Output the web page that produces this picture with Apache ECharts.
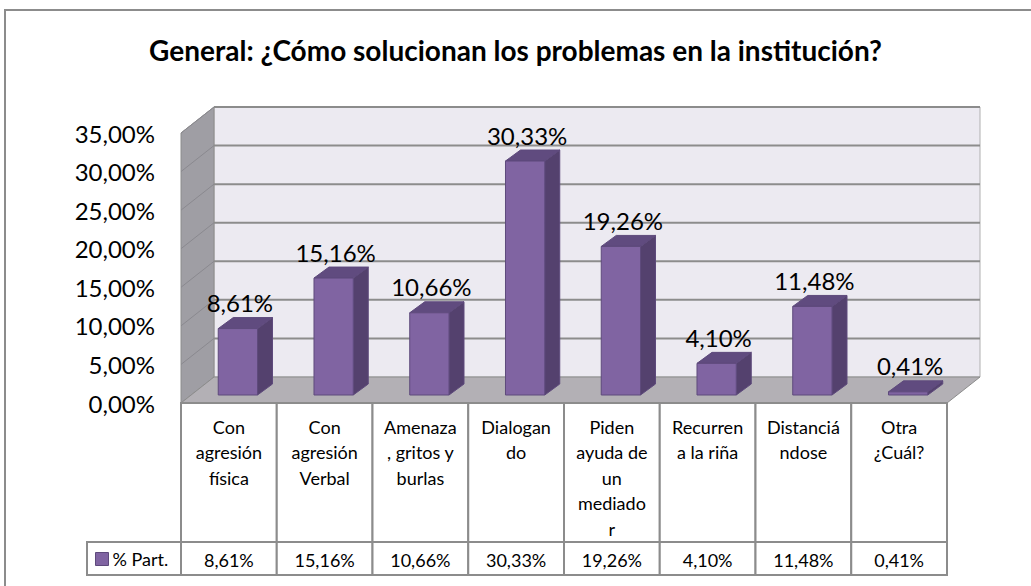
<!DOCTYPE html>
<html>
<head>
<meta charset="utf-8">
<script src="https://cdn.jsdelivr.net/npm/echarts@6/dist/echarts.min.js"></script>
<style>
html,body{margin:0;padding:0;background:#fff;}
#chart{width:1031px;height:586px;}
</style>
</head>
<body>
<div id="chart"></div>
<script>
// ---- data ----
const categories = [
  "Con\nagresión\nfísica",
  "Con\nagresión\nVerbal",
  "Amenaza\n, gritos y\nburlas",
  "Dialogan\ndo",
  "Piden\nayuda de\nun\nmediado\nr",
  "Recurren\na la riña",
  "Distanciá\nndose",
  "Otra\n¿Cuál?"
];
const values = [8.61, 15.16, 10.66, 30.33, 19.26, 4.10, 11.48, 0.41];
const seriesName = "% Part.";
const titleText = "General: ¿Cómo solucionan los problemas en la institución?";
const yTicks = [0, 5, 10, 15, 20, 25, 30, 35];

// ---- style / layout ----
const FONT = "Lato";
const DX = 33, DY = -26;          // wall depth
const BX = 9, BY = -8;            // bar front offset
const BDX = 15, BDY = -11;        // bar depth
const BAR_W = 0.41;
const HDR_H = 139, VAL_H = 33;
const TABLE_FS = 18;
const fmt = v => v.toFixed(2).replace('.', ',') + '%';

const chart = echarts.init(document.getElementById('chart'), null, {renderer: 'svg'});

function renderWalls(params, api) {
  const cs = params.coordSys;
  const x0 = cs.x, x1 = cs.x + cs.width;
  const yb = api.coord([0, yTicks[0]])[1];
  const yt = api.coord([0, yTicks[yTicks.length - 1]])[1];
  const ch = [];
  ch.push({type: 'polygon', shape: {points: [[x0 + DX, yt + DY], [x1 + DX, yt + DY], [x1 + DX, yb + DY], [x0 + DX, yb + DY]]},
    style: {fill: '#ECEAF1', stroke: '#B0B0B0', lineWidth: 1}});
  ch.push({type: 'polygon', shape: {points: [[x0, yt], [x0 + DX, yt + DY], [x0 + DX, yb + DY], [x0, yb]]},
    style: {fill: '#9F9EA4', stroke: '#8C8C8C', lineWidth: 1}});
  ch.push({type: 'polygon', shape: {points: [[x0, yb], [x0 + DX, yb + DY], [x1 + DX, yb + DY], [x1, yb]]},
    style: {fill: '#B3B0B5', stroke: '#8C8C8C', lineWidth: 1}});
  yTicks.forEach(v => {
    if (v === 0) return;
    const y = api.coord([0, v])[1];
    ch.push({type: 'line', shape: {x1: x0 + DX, y1: y + DY, x2: x1 + DX, y2: y + DY}, style: {stroke: '#8C8C8C', lineWidth: 2}});
    ch.push({type: 'line', shape: {x1: x0, y1: y, x2: x0 + DX, y2: y + DY}, style: {stroke: '#8A898F', lineWidth: 1}});
  });
  return {type: 'group', children: ch};
}

function renderBar(params, api) {
  const i = api.value(0), v = api.value(1);
  const top = api.coord([i, v]);
  const base = api.coord([i, 0]);
  const w = api.size([1, 0])[0] * BAR_W;
  const xl = top[0] + BX - w / 2, xr = top[0] + BX + w / 2;
  const yt = top[1] + BY, yb = base[1] + BY;
  const edge = '#5E4A7C';
  return {type: 'group', children: [
    {type: 'polygon', shape: {points: [[xr, yt], [xr + BDX, yt + BDY], [xr + BDX, yb + BDY], [xr, yb]]},
      style: {fill: '#54416E', stroke: edge, lineWidth: 1}},
    {type: 'polygon', shape: {points: [[xl, yt], [xl + BDX, yt + BDY], [xr + BDX, yt + BDY], [xr, yt]]},
      style: {fill: '#604B7F', stroke: edge, lineWidth: 1}},
    {type: 'rect', shape: {x: xl, y: yt, width: w, height: yb - yt},
      style: {fill: '#8064A2', stroke: edge, lineWidth: 1}},
    {type: 'text', x: (xl + xr) / 2 + 2, y: yt + BDY - 15,
      style: {text: fmt(v), fill: '#000', fontSize: 24, fontFamily: FONT, align: 'center', verticalAlign: 'middle'}}
  ]};
}

function renderTable(params, api) {
  const i = api.value(0);
  const c = api.coord([i, 0]);
  const bw = api.size([1, 0])[0];
  const x = c[0] - bw / 2, y0 = c[1];
  const ls = {fill: '#fff', stroke: '#8C8C8C', lineWidth: 2};
  return {type: 'group', children: [
    {type: 'rect', shape: {x: x, y: y0, width: bw, height: HDR_H}, style: ls},
    {type: 'rect', shape: {x: x, y: y0 + HDR_H, width: bw, height: VAL_H}, style: ls},
    {type: 'text', x: c[0], y: y0 + 11,
      style: {text: categories[i], fill: '#000', fontSize: TABLE_FS, lineHeight: 25.5, fontFamily: FONT, align: 'center', verticalAlign: 'top'}},
    {type: 'text', x: c[0], y: y0 + HDR_H + VAL_H / 2 + 1,
      style: {text: fmt(values[i]), fill: '#000', fontSize: TABLE_FS, fontFamily: FONT, align: 'center', verticalAlign: 'middle'}}
  ]};
}

const option = {
  backgroundColor: '#fff',
  animation: false,
  title: {
    text: titleText, left: 'center', top: 31,
    textStyle: {fontFamily: FONT, fontSize: 28, fontWeight: 'bold', color: '#000'}
  },
  grid: {left: 181, right: 84, top: 133, bottom: 183, containLabel: false},
  legend: {
    data: [seriesName], left: 95, top: 550, padding: 0, icon: 'rect', itemWidth: 13, itemHeight: 13, itemGap: 4,
    textStyle: {fontFamily: FONT, fontSize: TABLE_FS, color: '#000', padding: [0, 0, 0, -1]},
    itemStyle: {borderColor: '#5E4A7C', borderWidth: 1}
  },
  xAxis: {
    type: 'category', data: categories,
    axisLine: {show: false}, axisTick: {show: false}, axisLabel: {show: false}, splitLine: {show: false}
  },
  yAxis: {
    type: 'value', min: 0, max: 35, interval: 5,
    axisLine: {show: false}, axisTick: {show: false}, splitLine: {show: false},
    axisLabel: {formatter: v => fmt(v), fontFamily: FONT, fontSize: 24, color: '#000', margin: 26}
  },
  graphic: [
    {type: 'polyline', shape: {points: [[5, 600], [5, 10], [1040, 10]]}, style: {stroke: '#8C8C8C', lineWidth: 2, fill: null}, z: 0},
    {type: 'rect', shape: {x: 87, y: 542, width: 94, height: 33}, style: {fill: '#fff', stroke: '#8C8C8C', lineWidth: 2}, z: 0}
  ],
  series: [
    {type: 'custom', name: 'walls', silent: true, z: 1, renderItem: renderWalls, data: [[0, 0]]},
    {type: 'custom', name: 'table', silent: true, z: 2, renderItem: renderTable, data: values.map((v, i) => [i, v])},
    {type: 'custom', name: seriesName, z: 3, renderItem: renderBar, itemStyle: {color: '#8064A2'},
      encode: {x: 0, y: 1}, data: values.map((v, i) => [i, v])}
  ]
};
chart.setOption(option);
</script>
</body>
</html>
